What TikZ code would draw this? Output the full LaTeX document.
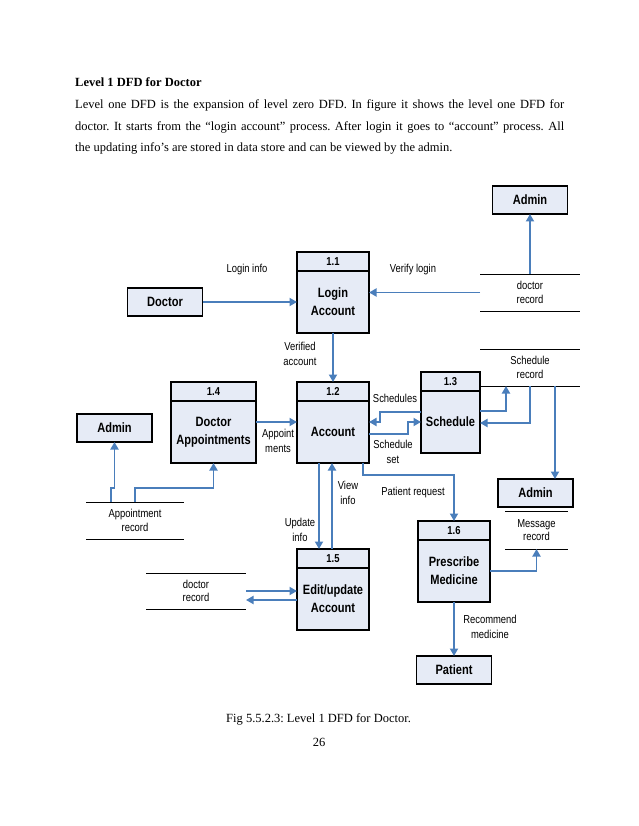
\documentclass[tikz,border=0pt]{standalone}
\usepackage{fontspec}
\setmainfont{Liberation Serif}
\newfontfamily\dfd[FakeStretch=0.82]{Liberation Sans}
\usetikzlibrary{arrows.meta}
\usetikzlibrary{positioning}
\frenchspacing

\begin{document}
\begin{tikzpicture}[x=1pt,y=-1pt]
  \tikzstyle{entity}=[draw,line width=1.6pt,fill=boxfill,minimum width=75pt,minimum height=28pt,inner sep=0pt,outer sep=0pt,font=\dfd\bfseries\fontsize{13.5}{17}\selectfont]
  \tikzstyle{numbox}=[draw,line width=1.6pt,fill=boxfill,minimum height=19pt,inner sep=0pt,outer sep=0pt,font=\dfd\bfseries\fontsize{11.5}{14}\selectfont]
  \tikzstyle{proc}=[draw,line width=1.6pt,fill=boxfill,minimum height=62pt,inner sep=0pt,outer sep=0pt,align=center,font=\dfd\bfseries\fontsize{13.5}{18}\selectfont]
  \tikzstyle{store}=[minimum height=37pt,inner sep=0pt,outer sep=0pt,align=center,font=\dfd\fontsize{11.5}{13.5}\selectfont]
  \tikzstyle{flow}=[draw=flowcol,line width=1.8pt,-{Triangle[length=7.5pt,width=8pt]}]
  \tikzstyle{lbl}=[align=center,inner sep=0pt,font=\dfd\fontsize{11.5}{14.5}\selectfont]
  \definecolor{boxfill}{HTML}{E6EBF6}
  \definecolor{flowcol}{HTML}{4A7EBB}

  \fill[white] (0,0) rectangle (638,826);
  \useasboundingbox (0,0) rectangle (638,826);

  % TEXT
  \node[anchor=base west,inner sep=0pt,font=\bfseries\fontsize{12.5}{15}\selectfont] (title) at (75,87) {Level 1 DFD for Doctor};
  \node[anchor=base west,inner sep=0pt,text width=489pt,align=justify,font=\fontsize{12.5}{21.5}\selectfont] (intro) at (75,109)
  {Level one DFD is the expansion of level zero DFD. In figure it shows the level one DFD for\linebreak
   doctor. It starts from the “login account” process. After login it goes to “account” process. All\linebreak
   the updating info’s are stored in data store and can be viewed by the admin.};
  \node[anchor=base west,inner sep=0pt,font=\fontsize{12.5}{15}\selectfont] (caption) at (226,722) {Fig 5.5.2.3: Level 1 DFD for Doctor.};
  \node[anchor=base,inner sep=0pt,font=\fontsize{12.5}{15}\selectfont] (pageno) at (319,746) {26};

  % ENTITIES
  \node[entity] (doctor) at (165,302) {Doctor};
  \node[entity] (admintop) at (530,200) {Admin};
  \node[entity] (adminleft) at (114.5,428) {Admin};
  \node[entity] (adminright) at (535.5,493) {Admin};
  \node[entity] (patient) at (454,670) {Patient};

  % PROCESSES
  \node[numbox,minimum width=72pt] (nlogin) at (333,261.5) {1.1};
  \node[proc,minimum width=72pt,below=0pt of nlogin] (login) {Login\\Account};
  \node[numbox,minimum width=72pt] (naccount) at (333,391.5) {1.2};
  \node[proc,minimum width=72pt,below=0pt of naccount] (account) {Account};
  \node[numbox,minimum width=59pt] (nsched) at (450.5,381.5) {1.3};
  \node[proc,minimum width=59pt,below=0pt of nsched] (sched) {Schedule};
  \node[numbox,minimum width=85pt] (nappt) at (213.5,391.5) {1.4};
  \node[proc,minimum width=85pt,below=0pt of nappt] (appt) {Doctor\\Appointments};
  \node[numbox,minimum width=72pt] (nedit) at (333,558.5) {1.5};
  \node[proc,minimum width=72pt,below=0pt of nedit] (edit) {Edit/update\\Account};
  \node[numbox,minimum width=72pt] (npresc) at (454,530.5) {1.6};
  \node[proc,minimum width=72pt,below=0pt of npresc] (presc) {Prescribe\\Medicine};

  % DATA STORES
  \node[store,minimum width=100pt] (drec) at (530,292.5) {doctor\\record};
  \node[store,minimum width=100pt] (srec) at (530,367.5) {Schedule\\record};
  \node[store,minimum width=63pt,minimum height=38pt] (mrec) at (536.5,530) {Message\\record};
  \node[store,minimum width=98pt] (arec) at (135,520.5) {Appointment\\record};
  \node[store,minimum width=100pt,minimum height=36pt] (urec) at (196,591) {doctor\\record};
  \foreach \s in {drec,srec,mrec,arec,urec}{
      \draw[line width=0.9pt]
      (\s.north west) -- (\s.north east)
      (\s.south west) -- (\s.south east);
    }

  % FLOWS
  \draw[flow] (doctor.east) -- (login.west);
  \draw[flow] (drec.west) -- (drec.west -| login.east);
  \draw[flow] (drec.north) -- (admintop.south);
  \draw[flow] (login.south) -- (naccount.north);
  \draw[flow] ([yshift=10pt]appt.east) -- ([yshift=10pt]appt.east -| account.west);
  \draw[flow] ([yshift=10pt]sched.west) -- ++(-41,0) |- ([yshift=10pt]account.east);
  \draw[flow] ([yshift=-2pt]account.east) -- ++(39,0) |- (sched.west);
  \draw[flow] ([yshift=11pt]sched.east) -| ([xshift=-24pt]srec.south);
  \draw[flow] (srec.south) |- ([yshift=-1pt]sched.east);
  \draw[flow] ([xshift=25pt]srec.south) -- ([xshift=25pt]srec.south |- adminright.north);
  \draw[flow] ([xshift=30pt]account.south) -- ++(0,12) -| (npresc.north);
  \draw[flow] ([xshift=-14pt]account.south) -- ([xshift=-14pt]account.south |- nedit.north);
  \draw[flow] ([xshift=-1pt]nedit.north) -- ([xshift=-1pt]nedit.north |- account.south);
  \draw[flow] (urec.east) -- (urec.east -| edit.west);
  \draw[flow] ([yshift=-1pt]edit.west) -- ([yshift=-1pt]edit.west -| urec.east);
  \draw[flow] (presc.east) -| (mrec.south);
  \draw[flow] (presc.south) -- (patient.north);
  \draw[flow] ([xshift=-24pt]arec.north) -- ++(0,-14) -| (adminleft.south);
  \draw[flow] (arec.north) -- ++(0,-14) -| (appt.south);

  % LABELS
  \node[lbl] (l1) at (247,270) {Login info};
  \node[lbl] (l2) at (413,270) {Verify login};
  \node[lbl] (l3) at (300,354) {Verified\\account};
  \node[lbl] (l4) at (395,398) {Schedules};
  \node[lbl] (l5) at (393,452) {Schedule\\set};
  \node[lbl] (l6) at (278,441) {Appoint\\ments};
  \node[lbl] (l7) at (348,493) {View\\info};
  \node[lbl] (l8) at (413,493) {Patient request};
  \node[lbl] (l9) at (300,530) {Update\\info};
  \node[lbl] (l10) at (490,627) {Recommend\\medicine};
\end{tikzpicture}
\end{document}
